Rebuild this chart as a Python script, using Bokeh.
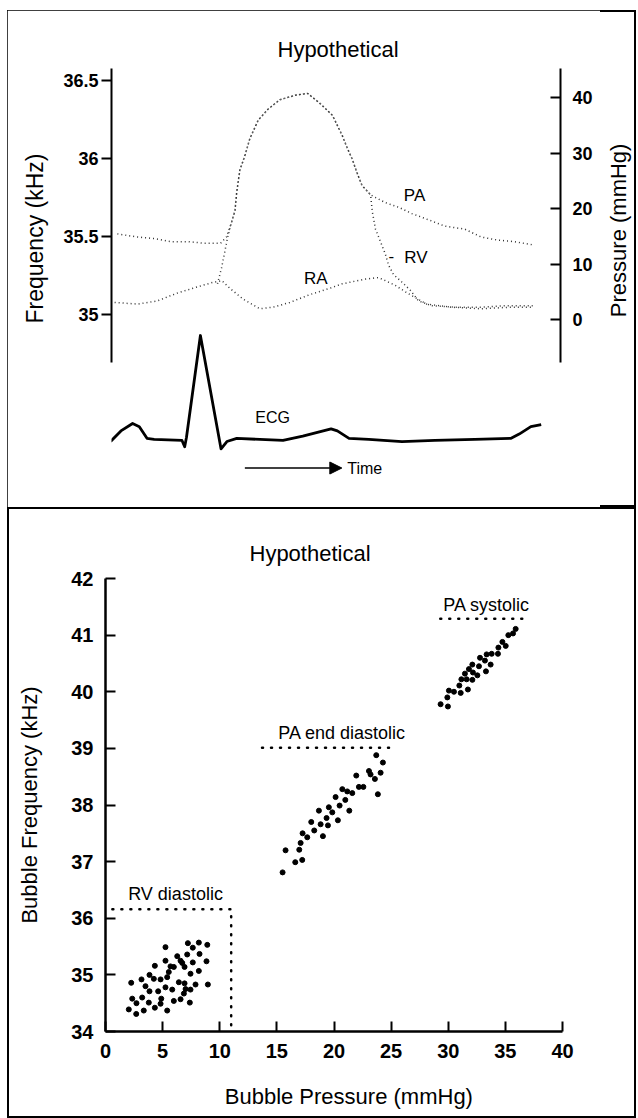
import math
from bokeh.plotting import figure
from bokeh.models import (Range1d, LinearAxis, FixedTicker, NumeralTickFormatter,
                          Label, Arrow, NormalHead, Title)
from bokeh.layouts import column, row
from bokeh.embed import file_html
from bokeh.resources import INLINE

FONT = "Liberation Sans"

# ---------------- top panel data (time in arbitrary units) ----------------
freq_ticks = [35, 35.5, 36, 36.5]
pressure_ticks = [0, 10, 20, 30, 40]

pa_time = [1.3, 5.7, 9.5, 13.2, 17.2, 20.5, 24.3, 25.6, 26.7, 27.5, 27.9, 28.6, 29.7,
           30.8, 32.7, 34.9, 37.5, 41.1, 43.7, 46.3, 49.2, 51.4, 52.5, 53.6, 54.7,
           55.8, 57.7, 61.0, 64.0, 66.9, 70.6, 74.2, 78.7, 82.3, 86.0, 89.7, 93.8]
pa_freq = [35.52, 35.50, 35.49, 35.47, 35.47, 35.46, 35.46, 35.50, 35.59, 35.67, 35.79,
           35.93, 36.02, 36.13, 36.25, 36.32, 36.38, 36.41, 36.42, 36.36, 36.28, 36.15,
           36.07, 36.00, 35.91, 35.83, 35.77, 35.72, 35.69, 35.65, 35.61, 35.57, 35.55,
           35.50, 35.48, 35.47, 35.45]

rv_time = [23.6, 24.5, 25.2, 25.8, 26.7, 27.5, 27.9, 28.6, 29.7, 30.8, 32.7, 34.9, 37.5,
           41.1, 43.7, 46.3, 49.2, 51.4, 52.5, 53.6, 54.7, 55.8, 57.7, 58.1, 58.8, 59.9,
           61.0, 61.7, 62.8, 64.7, 66.5, 68.4, 71.3, 76.4, 82.3, 88.2, 93.8]
rv_freq_curve = [35.20, 35.30, 35.40, 35.49, 35.59, 35.67, 35.79, 35.93, 36.02, 36.13,
                 36.25, 36.32, 36.38, 36.41, 36.42, 36.36, 36.28, 36.15, 36.07, 36.00,
                 35.91, 35.83, 35.77, 35.66, 35.55, 35.47, 35.39, 35.32, 35.26, 35.21,
                 35.16, 35.09, 35.06, 35.05, 35.05, 35.06, 35.06]

ra_time = [0.7, 5.8, 10.2, 14.6, 19.1, 22.7, 24.6, 26.4, 29.4, 33.0, 36.0, 39.7, 44.1,
           48.5, 51.4, 56.6, 59.5, 63.2, 66.5, 70.2, 75.7, 82.3, 89.0, 93.8]
ra_freq = [35.08, 35.07, 35.09, 35.14, 35.18, 35.21, 35.22, 35.17, 35.10, 35.04, 35.05,
           35.08, 35.13, 35.17, 35.20, 35.23, 35.24, 35.19, 35.13, 35.07, 35.05, 35.04,
           35.05, 35.05]

ecg_time = [-0.2, 2.1, 4.7, 6.2, 7.9, 9.5, 15.7, 16.3, 16.7, 19.8, 24.4, 25.7, 27.9,
            38.2, 42.6, 48.9, 50.3, 52.9, 57.3, 64.7, 72.0, 80.9, 89.0, 90.8, 93.4, 95.7]
ecg_mv = [0.00, 0.10, 0.17, 0.14, 0.03, 0.02, 0.01, -0.05, 0.04, 1.00, -0.07, 0.00, 0.03,
          0.01, 0.05, 0.12, 0.10, 0.03, 0.02, 0.00, 0.01, 0.02, 0.03, 0.07, 0.14, 0.16]

# ---------------- bottom panel data ----------------
press_ticks = [0, 5, 10, 15, 20, 25, 30, 35, 40]
bfreq_ticks = [34, 35, 36, 37, 38, 39, 40, 41, 42]

rv_press = [5.25, 7.21, 8.17, 8.91, 7.64, 6.28, 7.15, 8.23, 5.25, 6.57, 6.72, 7.64, 8.84,
            4.32, 5.69, 5.98, 5.54, 6.92, 8.17, 7.44, 3.85, 3.15, 4.23, 4.82, 5.40, 2.25,
            3.50, 5.25, 6.42, 6.92, 7.88, 8.96, 3.85, 4.61, 5.84, 7.01, 7.44, 6.86, 2.34,
            3.21, 4.88, 6.57, 5.98, 7.38, 2.71, 3.79, 4.82, 2.04, 2.69, 3.35, 4.32, 5.40]
rv_freq = [35.49, 35.56, 35.57, 35.53, 35.48, 35.33, 35.36, 35.37, 35.25, 35.25, 35.21,
           35.22, 35.24, 35.16, 35.15, 35.14, 35.05, 35.14, 35.07, 35.02, 35.00, 34.92,
           34.93, 34.92, 34.96, 34.86, 34.80, 34.78, 34.87, 34.85, 34.83, 34.83, 34.71,
           34.71, 34.74, 34.75, 34.74, 34.67, 34.58, 34.60, 34.58, 34.57, 34.54, 34.51,
           34.50, 34.51, 34.49, 34.39, 34.31, 34.37, 34.42, 34.37]

pad_press = [23.70, 24.28, 21.95, 23.06, 23.20, 24.08, 23.58, 22.18, 22.57, 20.73, 21.16,
             21.60, 23.84, 20.14, 20.99, 20.49, 19.55, 18.68, 19.85, 21.34, 19.35, 20.34,
             18.01, 18.83, 19.47, 18.27, 17.25, 17.66, 19.03, 17.08, 15.76, 16.96, 17.22,
             16.61, 15.50]
pad_freq = [38.88, 38.75, 38.52, 38.60, 38.54, 38.57, 38.46, 38.32, 38.32, 38.28, 38.24,
            38.21, 38.19, 38.14, 38.09, 37.99, 37.96, 37.90, 37.87, 37.90, 37.77, 37.73,
            37.70, 37.66, 37.64, 37.55, 37.50, 37.43, 37.45, 37.33, 37.20, 37.21, 37.03,
            36.99, 36.81]

pas_press = [35.90, 35.67, 35.26, 34.74, 35.03, 34.39, 33.80, 33.36, 34.35, 32.78, 33.21,
             32.11, 32.69, 33.71, 31.81, 32.16, 33.30, 31.46, 32.55, 31.15, 31.61, 32.11,
             30.97, 31.72, 30.06, 30.50, 31.09, 29.92, 29.33, 29.97]
pas_freq = [41.11, 41.03, 41.00, 40.88, 40.81, 40.78, 40.67, 40.66, 40.67, 40.60, 40.55,
            40.48, 40.45, 40.48, 40.40, 40.34, 40.36, 40.32, 40.29, 40.22, 40.22, 40.21,
            40.11, 40.04, 40.02, 40.00, 39.98, 39.90, 39.78, 39.74]

pa_sys_x = [29.3, 36.5]
pa_sys_y = [41.29, 41.29]
pa_ed_x = [13.7, 25.2]
pa_ed_y = [39.01, 39.01]
rv_dia_x = [0.6, 11.0, 11.0]
rv_dia_y = [36.16, 36.16, 34.0]

BORDER = {"outline": "2px solid black", "outline-offset": "-2px"}


def lab(p, x, y, text, size, angle=0.0, align="center", yr="default"):
    p.add_layout(Label(x=x, y=y, text=text, text_font=FONT, text_font_size=size,
                       text_align=align, text_baseline="middle", angle=angle,
                       text_color="black", y_range_name=yr))


def style_axis(ax, size, tick_in, tick_out, standoff, width):
    ax.major_tick_in = tick_in
    ax.major_tick_out = tick_out
    ax.minor_tick_in = 0
    ax.minor_tick_out = 0
    ax.axis_line_width = width
    ax.axis_line_color = "black"
    ax.major_tick_line_color = "black"
    ax.major_tick_line_width = 2
    ax.major_label_standoff = standoff
    ax.major_label_text_font = FONT
    ax.major_label_text_font_size = size
    ax.major_label_text_font_style = "bold"
    ax.major_label_text_color = "black"


def style_title(t, size, align, offset, standoff):
    t.text_font = FONT
    t.text_font_size = size
    t.text_font_style = "normal"
    t.text_color = "black"
    t.align = align
    t.offset = offset
    t.standoff = standoff


def blank_fig(width, height, xr, yr):
    f = figure(width=width, height=height, x_range=xr, y_range=yr,
               x_axis_location=None, y_axis_location=None, toolbar_location=None,
               output_backend="svg", min_border=0)
    f.outline_line_color = None
    f.grid.grid_line_color = None
    f.border_fill_color = None
    f.background_fill_color = None
    return f


# ================= TOP PANEL =================
top = figure(width=593, height=497, x_range=Range1d(0, 100),
             y_range=Range1d(33.875, 36.580), x_axis_location=None,
             y_axis_location="left", toolbar_location=None, output_backend="svg",
             min_border_left=100, min_border_right=40, min_border_top=58,
             min_border_bottom=17)
top.extra_y_ranges = {"pressure": Range1d(-30.7, 45.2), "ecg": Range1d(-0.462, 3.519)}
top.outline_line_color = None
top.grid.grid_line_color = None

top.title.text = "Hypothetical"
style_title(top.title, "22px", "left", 166, 13)

ya = top.yaxis[0]
ya.bounds = (34.695, 36.58)
ya.ticker = FixedTicker(ticks=freq_ticks)
ya.formatter = NumeralTickFormatter(format="0[.]0")
style_axis(ya, "18px", 0, 10, 3, 2)

ra = LinearAxis(y_range_name="pressure", bounds=(-7.68, 45.2),
                ticker=FixedTicker(ticks=pressure_ticks))
style_axis(ra, "18px", 10, 0, 12, 2)
top.add_layout(ra, "right")

ylab = Title(text="Frequency (kHz)")
style_title(ylab, "23px", "left", 167, 25)
top.add_layout(ylab, "left")

for xs, ys in [(pa_time, pa_freq), (rv_time, rv_freq_curve), (ra_time, ra_freq)]:
    top.line(xs, ys, line_color="#333333", line_width=1.5, line_dash="1 3")

top.line(ecg_time, ecg_mv, y_range_name="ecg", line_color="black", line_width=2.8,
         line_join="round")

top.add_layout(Arrow(x_start=29.7, y_start=-0.25, x_end=51.3, y_end=-0.25,
                     y_range_name="ecg", line_width=1.5, line_color="black",
                     end=NormalHead(size=12, fill_color="black", line_color="black")))

lab(top, 67.5, 35.766, "PA", "17px")
lab(top, 67.8, 35.37, "RV", "17px")
lab(top, 62.3, 35.375, "-", "17px")
lab(top, 45.5, 35.237, "RA", "17px")
lab(top, 35.9, 0.23, "ECG", "16px", yr="ecg")
lab(top, 52.5, -0.25, "Time", "16px", align="left", yr="ecg")

# narrow companion figure holding the right-hand axis title
side = blank_fig(36, 497, Range1d(0, 1), Range1d(33.766, 36.952))
lab(side, 0.5, 35.73, "Pressure (mmHg)", "22px", angle=math.pi / 2)

top_panel = row(top, side, margin=(10, 2, 0, 7), styles=BORDER)

# ================= BOTTOM PANEL =================
bot = figure(width=629, height=568, x_range=Range1d(0, 40), y_range=Range1d(34, 42),
             toolbar_location=None, output_backend="svg",
             min_border_left=98, min_border_right=74, min_border_top=71,
             min_border_bottom=44)
bot.outline_line_color = None
bot.grid.grid_line_color = None
bot.border_fill_color = None

bot.title.text = "Hypothetical"
style_title(bot.title, "22px", "left", 144, 25)

for ax, tk in [(bot.xaxis[0], press_ticks), (bot.yaxis[0], bfreq_ticks)]:
    ax.ticker = FixedTicker(ticks=tk)
    style_axis(ax, "20px", 10, 0, 12, 2.5)

bot.yaxis[0].axis_label = "Bubble Frequency (kHz)"
bot.yaxis[0].axis_label_text_font = FONT
bot.yaxis[0].axis_label_text_font_size = "22px"
bot.yaxis[0].axis_label_text_font_style = "normal"
bot.yaxis[0].axis_label_text_color = "black"
bot.yaxis[0].axis_label_standoff = 26

for xs, ys in [(pa_sys_x, pa_sys_y), (pa_ed_x, pa_ed_y), (rv_dia_x, rv_dia_y)]:
    bot.line(xs, ys, line_color="black", line_width=2.5, line_dash="1 8", line_cap="round")

for xs, ys in [(rv_press, rv_freq), (pad_press, pad_freq), (pas_press, pas_freq)]:
    bot.scatter(xs, ys, size=5, color="black")

lab(bot, 33.36, 41.54, "PA systolic", "18px")
lab(bot, 20.71, 39.27, "PA end diastolic", "18px")
lab(bot, 6.13, 36.43, "RV diastolic", "18px")

# companion strip below holding the x-axis title; its frame lines up with the plot's
xstrip = blank_fig(629, 43, Range1d(0, 40), Range1d(0, 43))
xstrip.title.visible = False
lab(xstrip, 21.3, 22, "Bubble Pressure (mmHg)", "22px")

bottom_panel = column(bot, xstrip, margin=(0, 2, 0, 7), styles=BORDER, spacing=0)

layout = column(top_panel, bottom_panel, spacing=0)
open("out.html", "w").write(file_html(layout, INLINE))
